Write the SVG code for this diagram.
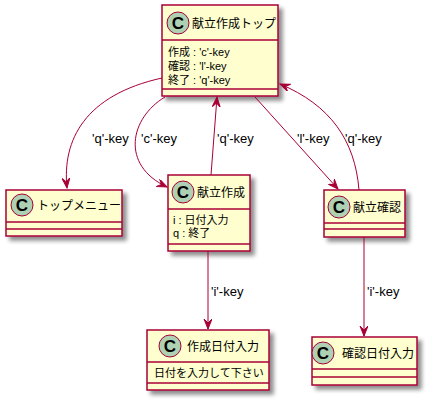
<svg xmlns="http://www.w3.org/2000/svg" width="426" height="401" viewBox="0 0 426 401">
<defs>
<filter id="sh" x="-10%" y="-10%" width="130%" height="130%">
<feGaussianBlur in="SourceAlpha" stdDeviation="2"/>
<feOffset dx="4" dy="4" result="b"/>
<feComponentTransfer><feFuncA type="linear" slope="0.45"/></feComponentTransfer>
<feMerge><feMergeNode/><feMergeNode in="SourceGraphic"/></feMerge>
</filter>
<marker id="ah" markerUnits="userSpaceOnUse" markerWidth="12" markerHeight="10" refX="10" refY="4" orient="auto" viewBox="0 0 12 10">
<path d="M0,0 L10,4 L0,8 L4,4 Z" fill="#A80036" stroke="#A80036" stroke-width="1"/>
</marker>
</defs>
<style>
.box{fill:#FEFECE;stroke:#A80036;stroke-width:1.5}
.sep{stroke:#A80036;stroke-width:1.5}
.ci{fill:#ADD1B2;stroke:#A80036;stroke-width:1}
.cl{font-family:"Liberation Sans Narrow","Liberation Sans","Noto Sans CJK JP",sans-serif;font-size:17px;font-weight:bold;fill:#000;text-anchor:middle}
.nm{font-family:"Liberation Sans","Noto Sans CJK JP",sans-serif;font-size:12px;fill:#000}
.at{font-family:"Liberation Sans","Noto Sans CJK JP",sans-serif;font-size:11px;fill:#000}
.lb{font-family:"Liberation Sans","Noto Sans CJK JP",sans-serif;font-size:13px;fill:#000}
.ed{fill:none;stroke:#A80036;stroke-width:1;marker-end:url(#ah)}
</style>
<g id="top">
<rect class="box" x="162" y="5" width="116" height="91" filter="url(#sh)"/>
<circle class="ci" cx="178" cy="23" r="11"/>
<text class="cl" x="178" y="29">C</text>
<text class="nm" x="192" y="28">献立作成トップ</text>
<line class="sep" x1="162" y1="40" x2="278" y2="40"/>
<text class="at" x="168" y="56">作成 : 'c'-key</text>
<text class="at" x="168" y="70">確認 : 'l'-key</text>
<text class="at" x="168" y="83.5">終了 : 'q'-key</text>
<line class="sep" x1="162" y1="89" x2="278" y2="89"/>
</g>
<g id="topmenu">
<rect class="box" x="6" y="190" width="116" height="46" filter="url(#sh)"/>
<circle class="ci" cx="22" cy="205" r="11"/>
<text class="cl" x="22" y="211">C</text>
<text class="nm" x="37" y="210">トップメニュー</text>
<line class="sep" x1="6" y1="222" x2="122" y2="222"/>
<line class="sep" x1="6" y1="229" x2="122" y2="229"/>
</g>
<g id="sakusei">
<rect class="box" x="168" y="175" width="82" height="76" filter="url(#sh)"/>
<circle class="ci" cx="183" cy="192" r="11"/>
<text class="cl" x="183" y="198">C</text>
<text class="nm" x="197" y="197">献立作成</text>
<line class="sep" x1="168" y1="209" x2="250" y2="209"/>
<text class="at" x="173" y="224">i : 日付入力</text>
<text class="at" x="173" y="237">q : 終了</text>
<line class="sep" x1="168" y1="244" x2="250" y2="244"/>
</g>
<g id="kakunin">
<rect class="box" x="324" y="190" width="81" height="47" filter="url(#sh)"/>
<circle class="ci" cx="339" cy="207" r="11"/>
<text class="cl" x="339" y="213">C</text>
<text class="nm" x="353" y="212">献立確認</text>
<line class="sep" x1="324" y1="223" x2="405" y2="223"/>
<line class="sep" x1="324" y1="229" x2="405" y2="229"/>
</g>
<g id="sakuseiDate">
<rect class="box" x="147" y="330" width="122" height="60" filter="url(#sh)"/>
<circle class="ci" cx="170" cy="346" r="11"/>
<text class="cl" x="170" y="352">C</text>
<text class="nm" x="187" y="351">作成日付入力</text>
<line class="sep" x1="147" y1="362" x2="269" y2="362"/>
<text class="at" x="154" y="377">日付を入力して下さい</text>
<line class="sep" x1="147" y1="383" x2="269" y2="383"/>
</g>
<g id="kakuninDate">
<rect class="box" x="312" y="337" width="105" height="48" filter="url(#sh)"/>
<circle class="ci" cx="323" cy="353" r="11"/>
<text class="cl" x="323" y="359">C</text>
<text class="nm" x="342" y="358">確認日付入力</text>
<line class="sep" x1="312" y1="369" x2="417" y2="369"/>
<line class="sep" x1="312" y1="377" x2="417" y2="377"/>
</g>
<g id="connectors">
<path class="ed" d="M162,78 C85,95 62,140 67,188"/>
<text class="lb" x="92" y="143">'q'-key</text>
<path class="ed" d="M165,97 C130,118 120,165 167,187"/>
<text class="lb" x="141" y="143">'c'-key</text>
<path class="ed" d="M211,175 L217,97"/>
<text class="lb" x="217" y="143">'q'-key</text>
<path class="ed" d="M255,97 L338,189"/>
<text class="lb" x="297" y="143">'l'-key</text>
<path class="ed" d="M359,190 C355,140 330,105 280,84"/>
<text class="lb" x="345" y="143">'q'-key</text>
<path class="ed" d="M208,251 L208,329"/>
<text class="lb" x="211" y="296">'i'-key</text>
<path class="ed" d="M364,237 L364,336"/>
<text class="lb" x="367" y="296">'i'-key</text>
</g>
</svg>
